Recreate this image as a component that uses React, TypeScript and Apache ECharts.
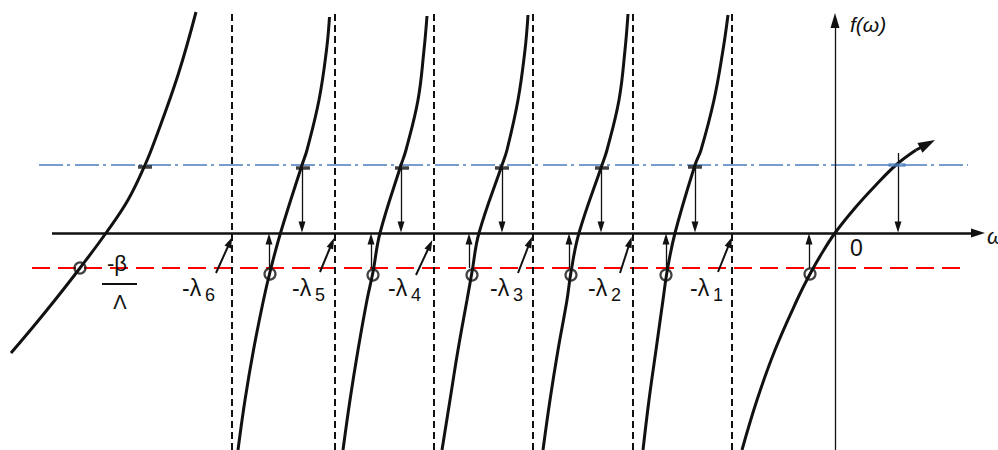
import React, { useEffect, useRef } from "react";
import * as echarts from "echarts";

// ---- chart scale (ω horizontally, f(ω) vertically, arbitrary units) ----
const X_RANGE = [-8.35, 1.63];
const Y_RANGE = [-2.17, 2.33];

// ---- asymptotes -λ6 ... -λ1 ----
const asymptoteX = [-6.03, -5.0, -4.01, -3.02, -2.02, -1.03];
const asymptoteNames = ["6", "5", "4", "3", "2", "1"];
const asymptoteSpan = [-2.17, 2.19];

// ---- reactivity levels ----
const blueLevel = 0.68;
const blueSpan = [-7.96, 1.33];
const redLevel = -0.35;
const redSpan = [-8.03, 1.27];

// ---- axes ----
const axisXSpan = [-7.83, 1.43];
const axisYSpan = [-2.17, 2.125];

// ---- branches of f(ω) ----
const leftBranch = [
  [-8.24, -1.2], [-8.02, -0.94], [-7.8, -0.67], [-7.55, -0.35], [-7.29, 0],
  [-7.07, 0.33], [-6.9, 0.68], [-6.8, 0.93], [-6.57, 1.58], [-6.39, 2.21],
];
const branch5 = [
  [-5.97, -2.17], [-5.9, -1.67], [-5.815, -1.17], [-5.715, -0.67], [-5.65, -0.39],
  [-5.545, 0], [-5.33, 0.68], [-5.28, 0.83], [-5.16, 1.33], [-5.085, 1.83], [-5.055, 2.16],
];
const branch4 = [
  [-4.92, -2.17], [-4.85, -1.67], [-4.77, -1.17], [-4.68, -0.67], [-4.62, -0.39],
  [-4.55, 0], [-4.34, 0.68], [-4.29, 0.83], [-4.17, 1.33], [-4.11, 1.83], [-4.08, 2.17],
];
const branch3 = [
  [-3.93, -2.17], [-3.85, -1.67], [-3.77, -1.17], [-3.68, -0.67], [-3.63, -0.39],
  [-3.56, 0], [-3.33, 0.68], [-3.28, 0.83], [-3.17, 1.33], [-3.1, 1.83], [-3.07, 2.18],
];
const branch2 = [
  [-2.92, -2.17], [-2.85, -1.67], [-2.77, -1.17], [-2.68, -0.67], [-2.64, -0.39],
  [-2.56, 0], [-2.33, 0.68], [-2.28, 0.83], [-2.16, 1.33], [-2.1, 1.83], [-2.07, 2.19],
];
const branch1 = [
  [-1.92, -2.17], [-1.86, -1.67], [-1.79, -1.17], [-1.72, -0.67], [-1.68, -0.39],
  [-1.6, 0], [-1.4, 0.68], [-1.34, 0.83], [-1.21, 1.33], [-1.12, 1.83], [-1.07, 2.18],
];
const rightBranch = [
  [-0.93, -2.17], [-0.78, -1.67], [-0.6, -1.17], [-0.38, -0.67], [-0.25, -0.41],
  [-0.13, -0.2], [0, 0], [0.2, 0.25], [0.4, 0.47], [0.61, 0.68], [0.81, 0.83],
];
const rightArrowHead = [[0.81, 0.83], [0.925, 0.89]];

// ---- roots on the red level (circles) ----
const rootCircles = [
  [-7.55, -0.35], [-5.65, -0.41], [-4.62, -0.42], [-3.63, -0.42],
  [-2.64, -0.42], [-1.69, -0.42], [-0.25, -0.41],
];
// ---- roots on the blue level (bars) ----
const blueMarks = [[-6.9, 0.66], [-5.32, 0.65], [-4.33, 0.65], [-3.33, 0.65], [-2.33, 0.65], [-1.4, 0.66]];
const rightBlueMark = [[0.62, 0.68]];

// ---- arrows ----
const downArrowX = [-5.33, -4.34, -3.33, -2.34, -1.4, 0.63];
const downArrowFrom = [0.65, 0.65, 0.65, 0.65, 0.65, 0.8];
const downArrowTo = 0.06;
const upArrowX = [-5.66, -4.64, -3.66, -2.66, -1.69, -0.26];
const upArrowTo = -0.06;
const pointerFrom = [[-6.19, -0.4], [-5.15, -0.39], [-4.19, -0.42], [-3.17, -0.4], [-2.15, -0.4], [-1.17, -0.39]];
const pointerTo = [[-6.05, -0.09], [-5.03, -0.1], [-4.05, -0.12], [-3.05, -0.09], [-2.05, -0.09], [-1.05, -0.09]];

// ---- text anchors ----
const lambdaLabelPos = [[-6.53, -0.55], [-5.43, -0.55], [-4.47, -0.55], [-3.45, -0.55], [-2.47, -0.55], [-1.45, -0.55]];
const betaPos = [-7.28, -0.3];
const fractionBar = [[-7.33, -0.51], [-6.98, -0.51]];
const lambdaCapPos = [-7.15, -0.69];
const zeroPos = [0.15, -0.15];
const fLabelPos = [0.15, 2.09];
const omegaPos = [1.52, -0.03];

const FONT = '"Liberation Sans", Arial, Helvetica, sans-serif';
const INK = "#111111";

export default function App() {
  const ref = useRef<HTMLDivElement>(null);

  useEffect(() => {
    if (!ref.current) return;
    const chart = echarts.init(ref.current, undefined, { renderer: "svg" });

    const curve = (data: number[][]) => ({
      type: "line",
      data,
      showSymbol: false,
      symbol: "none",
      smooth: 0.4,
      lineStyle: { color: INK, width: 3 },
      z: 5,
      silent: true,
    });

    const seg = (a: number[], b: number[]) => ({ coords: [a, b] });

    chart.setOption({
      animation: false,
      grid: { left: 0, right: 0, top: 0, bottom: 0 },
      xAxis: { type: "value", min: X_RANGE[0], max: X_RANGE[1], show: false },
      yAxis: { type: "value", min: Y_RANGE[0], max: Y_RANGE[1], show: false },
      series: [
        // blue dash-dot level
        {
          type: "lines", coordinateSystem: "cartesian2d", z: 1, silent: true,
          data: [seg([blueSpan[0], blueLevel], [blueSpan[1], blueLevel])],
          lineStyle: { color: "#4a7ebb", width: 1.6, type: [24, 4, 3, 5], opacity: 1 },
        },
        // red dashed level
        {
          type: "lines", coordinateSystem: "cartesian2d", z: 1, silent: true,
          data: [seg([redSpan[0], redLevel], [redSpan[1], redLevel])],
          lineStyle: { color: "#ff0000", width: 2.2, type: [18, 8], opacity: 1 },
        },
        // asymptotes
        {
          type: "lines", coordinateSystem: "cartesian2d", z: 2, silent: true,
          data: asymptoteX.map((x) => seg([x, asymptoteSpan[0]], [x, asymptoteSpan[1]])),
          lineStyle: { color: INK, width: 2, type: [7, 4], opacity: 1 },
        },
        // horizontal axis
        {
          type: "lines", coordinateSystem: "cartesian2d", z: 3, silent: true,
          data: [seg([axisXSpan[0], 0], [axisXSpan[1], 0])],
          symbol: ["none", "triangle"], symbolSize: [[9, 14], [9, 14]],
          lineStyle: { color: INK, width: 2.5, type: "solid", opacity: 1 },
          itemStyle: { color: INK },
        },
        // vertical axis
        {
          type: "lines", coordinateSystem: "cartesian2d", z: 3, silent: true,
          data: [seg([0, axisYSpan[0]], [0, axisYSpan[1]])],
          symbol: ["none", "triangle"], symbolSize: [[9, 15], [9, 15]],
          lineStyle: { color: INK, width: 1.3, type: "solid", opacity: 1 },
        },
        // branches
        curve(leftBranch),
        curve(branch5),
        curve(branch4),
        curve(branch3),
        curve(branch2),
        curve(branch1),
        curve(rightBranch),
        {
          type: "lines", coordinateSystem: "cartesian2d", z: 5, silent: true,
          data: [seg(rightArrowHead[0], rightArrowHead[1])],
          symbol: ["none", "triangle"], symbolSize: [[11, 17], [11, 17]],
          lineStyle: { color: INK, width: 3, type: "solid", opacity: 1 },
        },
        // down arrows (blue level -> axis)
        {
          type: "lines", coordinateSystem: "cartesian2d", z: 4, silent: true,
          data: downArrowX.map((x, i) => seg([x, downArrowFrom[i]], [x, downArrowTo])),
          symbol: ["none", "triangle"], symbolSize: [[7, 11], [7, 11]],
          lineStyle: { color: INK, width: 1.3, type: "solid", opacity: 1 },
        },
        // up arrows (red level -> axis)
        {
          type: "lines", coordinateSystem: "cartesian2d", z: 4, silent: true,
          data: upArrowX.map((x) => seg([x, redLevel], [x, upArrowTo])),
          symbol: ["none", "triangle"], symbolSize: [[7, 11], [7, 11]],
          lineStyle: { color: INK, width: 1.3, type: "solid", opacity: 1 },
        },
        // pointers to -λi
        {
          type: "lines", coordinateSystem: "cartesian2d", z: 4, silent: true,
          data: pointerFrom.map((p, i) => seg(p, pointerTo[i])),
          symbol: ["none", "triangle"], symbolSize: [[7, 11], [7, 11]],
          lineStyle: { color: INK, width: 2, type: "solid", opacity: 1 },
        },
        // fraction bar of -β/Λ
        {
          type: "lines", coordinateSystem: "cartesian2d", z: 4, silent: true,
          data: [seg(fractionBar[0], fractionBar[1])],
          lineStyle: { color: INK, width: 2, type: "solid", opacity: 1 },
        },
        // circles (roots, red level)
        {
          type: "scatter", z: 6, silent: true,
          data: rootCircles,
          symbol: "circle", symbolSize: 11,
          itemStyle: { color: "rgba(0,0,0,0)", borderColor: INK, borderWidth: 2.2 },
        },
        // bars (roots, blue level)
        {
          type: "scatter", z: 6, silent: true,
          data: blueMarks,
          symbol: "rect", symbolSize: [14, 3.5],
          itemStyle: { color: INK },
        },
        {
          type: "scatter", z: 6, silent: true,
          data: rightBlueMark,
          symbol: "rect", symbolSize: [17, 3.5],
          itemStyle: { color: "#4a7ebb" },
        },
      ],
    });

    const px = (p: number[]) => chart.convertToPixel({ gridIndex: 0 }, p) as number[];
    const txt = (p: number[], text: string, size: number, align: string, extra: any = {}, dx = 0, dy = 0) => {
      const q = px(p);
      return {
        type: "text",
        x: q[0] + dx,
        y: q[1] + dy,
        silent: true,
        z: 10,
        style: {
          text,
          fontSize: size,
          fontFamily: FONT,
          fill: INK,
          align,
          verticalAlign: "middle",
          ...extra,
        },
      };
    };

    const graphics: any[] = [];
    lambdaLabelPos.forEach((p, i) => {
      graphics.push(txt(p, "-λ", 23, "left"));
      graphics.push(txt(p, asymptoteNames[i], 18, "left", {}, 23, 7));
    });
    graphics.push(txt(betaPos, "-β", 22, "left"));
    graphics.push(txt(lambdaCapPos, "Λ", 20, "center"));
    graphics.push(txt(zeroPos, "0", 23, "left"));
    graphics.push(txt(fLabelPos, "f(ω)", 21, "left", { fontStyle: "italic" }));
    graphics.push(txt(omegaPos, "ω", 22, "left", { fontStyle: "italic" }));

    chart.setOption({ graphic: graphics });

    return () => chart.dispose();
  }, []);

  return (
    <div
      ref={ref}
      style={{ position: "fixed", left: 0, top: 0, width: 998, height: 450, background: "#ffffff" }}
    />
  );
}
